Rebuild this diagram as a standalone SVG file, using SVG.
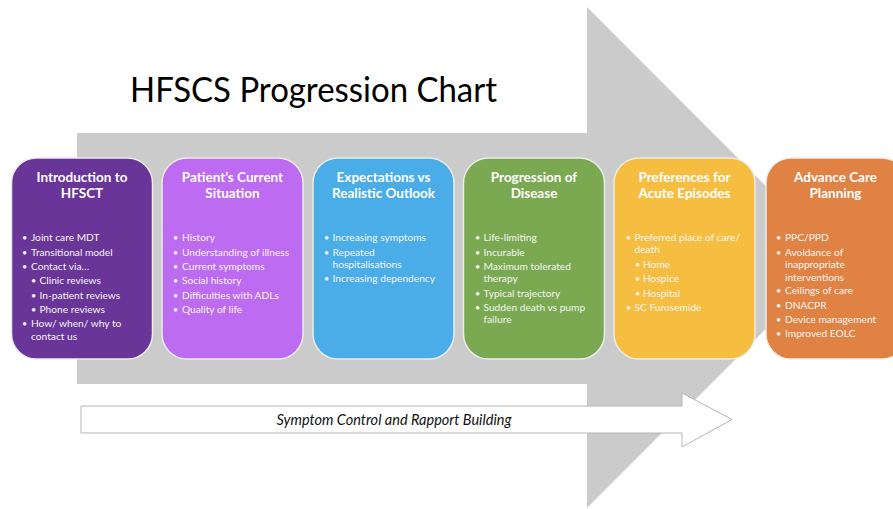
<svg xmlns="http://www.w3.org/2000/svg" width="893" height="509" viewBox="0 0 893 509">
<style>
.title{font-family:Lato,"Open Sans","Liberation Sans",sans-serif;font-size:34px;fill:#000}
.box{stroke:#ececec;stroke-width:1.5}
.hd{font-family:Lato,"Open Sans","Liberation Sans",sans-serif;font-size:13.5px;font-weight:bold;fill:#fff;text-anchor:middle}
.it{font-family:Lato,"Open Sans","Liberation Sans",sans-serif;font-size:10.2px;fill:#f4f4f4}
.bl{font-family:Lato,"Open Sans","Liberation Sans",sans-serif;font-size:9px;fill:#f4f4f4}
.lab{font-family:Lato,"Open Sans","Liberation Sans",sans-serif;font-size:14.5px;font-style:italic;fill:#111;text-anchor:middle}
</style>
<rect width="893" height="509" fill="#fff"/>
<g id="arrows">
<polygon id="big-arrow" points="77,133 587,133 587,7 837,257.5 587,508 587,384 77,384" fill="#cbcbcb"/>
<g id="rapport-arrow">
<polygon points="81,406 682,406 682,393 732,419.5 682,447 682,433 81,433" fill="#fff" stroke="#b4b4b4" stroke-width="1"/>
<text class="lab" x="394" y="424.5">Symptom Control and Rapport Building</text>
</g>
</g>
<text class="title" x="130" y="102" textLength="367" lengthAdjust="spacingAndGlyphs">HFSCS Progression Chart</text>

<g id="node-introduction">
<rect class="box" x="11.5" y="158" width="141" height="201" rx="25" fill="#6a3598"/>
<text class="hd" x="82" y="182">Introduction to</text>
<text class="hd" x="82" y="198">HFSCT</text>
<text class="bl" x="22" y="241">•</text><text class="it" x="31" y="241">Joint care MDT</text>
<text class="bl" x="22" y="255.5">•</text><text class="it" x="31" y="255.5">Transitional model</text>
<text class="bl" x="22" y="270">•</text><text class="it" x="31" y="270">Contact via…</text>
<text class="bl" x="31" y="284">•</text><text class="it" x="39.5" y="284">Clinic reviews</text>
<text class="bl" x="31" y="298.5">•</text><text class="it" x="39.5" y="298.5">In-patient reviews</text>
<text class="bl" x="31" y="313">•</text><text class="it" x="39.5" y="313">Phone reviews</text>
<text class="bl" x="22" y="327">•</text><text class="it" x="31" y="327">How/ when/ why to</text>
<text class="it" x="31" y="339.5">contact us</text>
</g>

<g id="node-current-situation">
<rect class="box" x="162" y="158" width="141" height="201" rx="25" fill="#bd6bf1"/>
<text class="hd" x="232.5" y="182">Patient’s Current</text>
<text class="hd" x="232.5" y="198">Situation</text>
<text class="bl" x="173" y="241">•</text><text class="it" x="182" y="241">History</text>
<text class="bl" x="173" y="255.5">•</text><text class="it" x="182" y="255.5">Understanding of illness</text>
<text class="bl" x="173" y="270">•</text><text class="it" x="182" y="270">Current symptoms</text>
<text class="bl" x="173" y="284">•</text><text class="it" x="182" y="284">Social history</text>
<text class="bl" x="173" y="298.5">•</text><text class="it" x="182" y="298.5">Difficulties with ADLs</text>
<text class="bl" x="173" y="313">•</text><text class="it" x="182" y="313">Quality of life</text>
</g>

<g id="node-expectations">
<rect class="box" x="313" y="158" width="141" height="201" rx="25" fill="#4aade8"/>
<text class="hd" x="383.5" y="182">Expectations vs</text>
<text class="hd" x="383.5" y="198">Realistic Outlook</text>
<text class="bl" x="324" y="241">•</text><text class="it" x="332.5" y="241">Increasing symptoms</text>
<text class="bl" x="324" y="255.5">•</text><text class="it" x="332.5" y="255.5">Repeated</text>
<text class="it" x="332.5" y="268">hospitalisations</text>
<text class="bl" x="324" y="282">•</text><text class="it" x="332.5" y="282">Increasing dependency</text>
</g>

<g id="node-progression">
<rect class="box" x="463.5" y="158" width="141" height="201" rx="25" fill="#7aa952"/>
<text class="hd" x="534" y="182">Progression of</text>
<text class="hd" x="534" y="198">Disease</text>
<text class="bl" x="475" y="241">•</text><text class="it" x="483.5" y="241">Life-limiting</text>
<text class="bl" x="475" y="255.5">•</text><text class="it" x="483.5" y="255.5">Incurable</text>
<text class="bl" x="475" y="270">•</text><text class="it" x="483.5" y="270">Maximum tolerated</text>
<text class="it" x="483.5" y="282">therapy</text>
<text class="bl" x="475" y="296.5">•</text><text class="it" x="483.5" y="296.5">Typical trajectory</text>
<text class="bl" x="475" y="310.5">•</text><text class="it" x="483.5" y="310.5">Sudden death vs pump</text>
<text class="it" x="483.5" y="323">failure</text>
</g>

<g id="node-preferences">
<rect class="box" x="614" y="158" width="141" height="201" rx="25" fill="#f5be41"/>
<text class="hd" x="684.5" y="182">Preferences for</text>
<text class="hd" x="684.5" y="198">Acute Episodes</text>
<text class="bl" x="626" y="241">•</text><text class="it" x="634.5" y="241">Preferred place of care/</text>
<text class="it" x="634.5" y="253">death</text>
<text class="bl" x="635" y="268">•</text><text class="it" x="643" y="268">Home</text>
<text class="bl" x="635" y="282">•</text><text class="it" x="643" y="282">Hospice</text>
<text class="bl" x="635" y="296.5">•</text><text class="it" x="643" y="296.5">Hospital</text>
<text class="bl" x="626" y="310.5">•</text><text class="it" x="634.5" y="310.5">SC Furosemide</text>
</g>

<g id="node-advance-care">
<rect class="box" x="766" y="158" width="141" height="201" rx="25" fill="#e08243"/>
<text class="hd" x="835.5" y="182">Advance Care</text>
<text class="hd" x="835.5" y="198">Planning</text>
<text class="bl" x="776" y="241">•</text><text class="it" x="785" y="241">PPC/PPD</text>
<text class="bl" x="776" y="255.5">•</text><text class="it" x="785" y="255.5">Avoidance of</text>
<text class="it" x="785" y="268">inappropriate</text>
<text class="it" x="785" y="280.5">interventions</text>
<text class="bl" x="776" y="294">•</text><text class="it" x="785" y="294">Ceilings of care</text>
<text class="bl" x="776" y="308.5">•</text><text class="it" x="785" y="308.5">DNACPR</text>
<text class="bl" x="776" y="323">•</text><text class="it" x="785" y="323">Device management</text>
<text class="bl" x="776" y="337">•</text><text class="it" x="785" y="337">Improved EOLC</text>
</g>
</svg>
